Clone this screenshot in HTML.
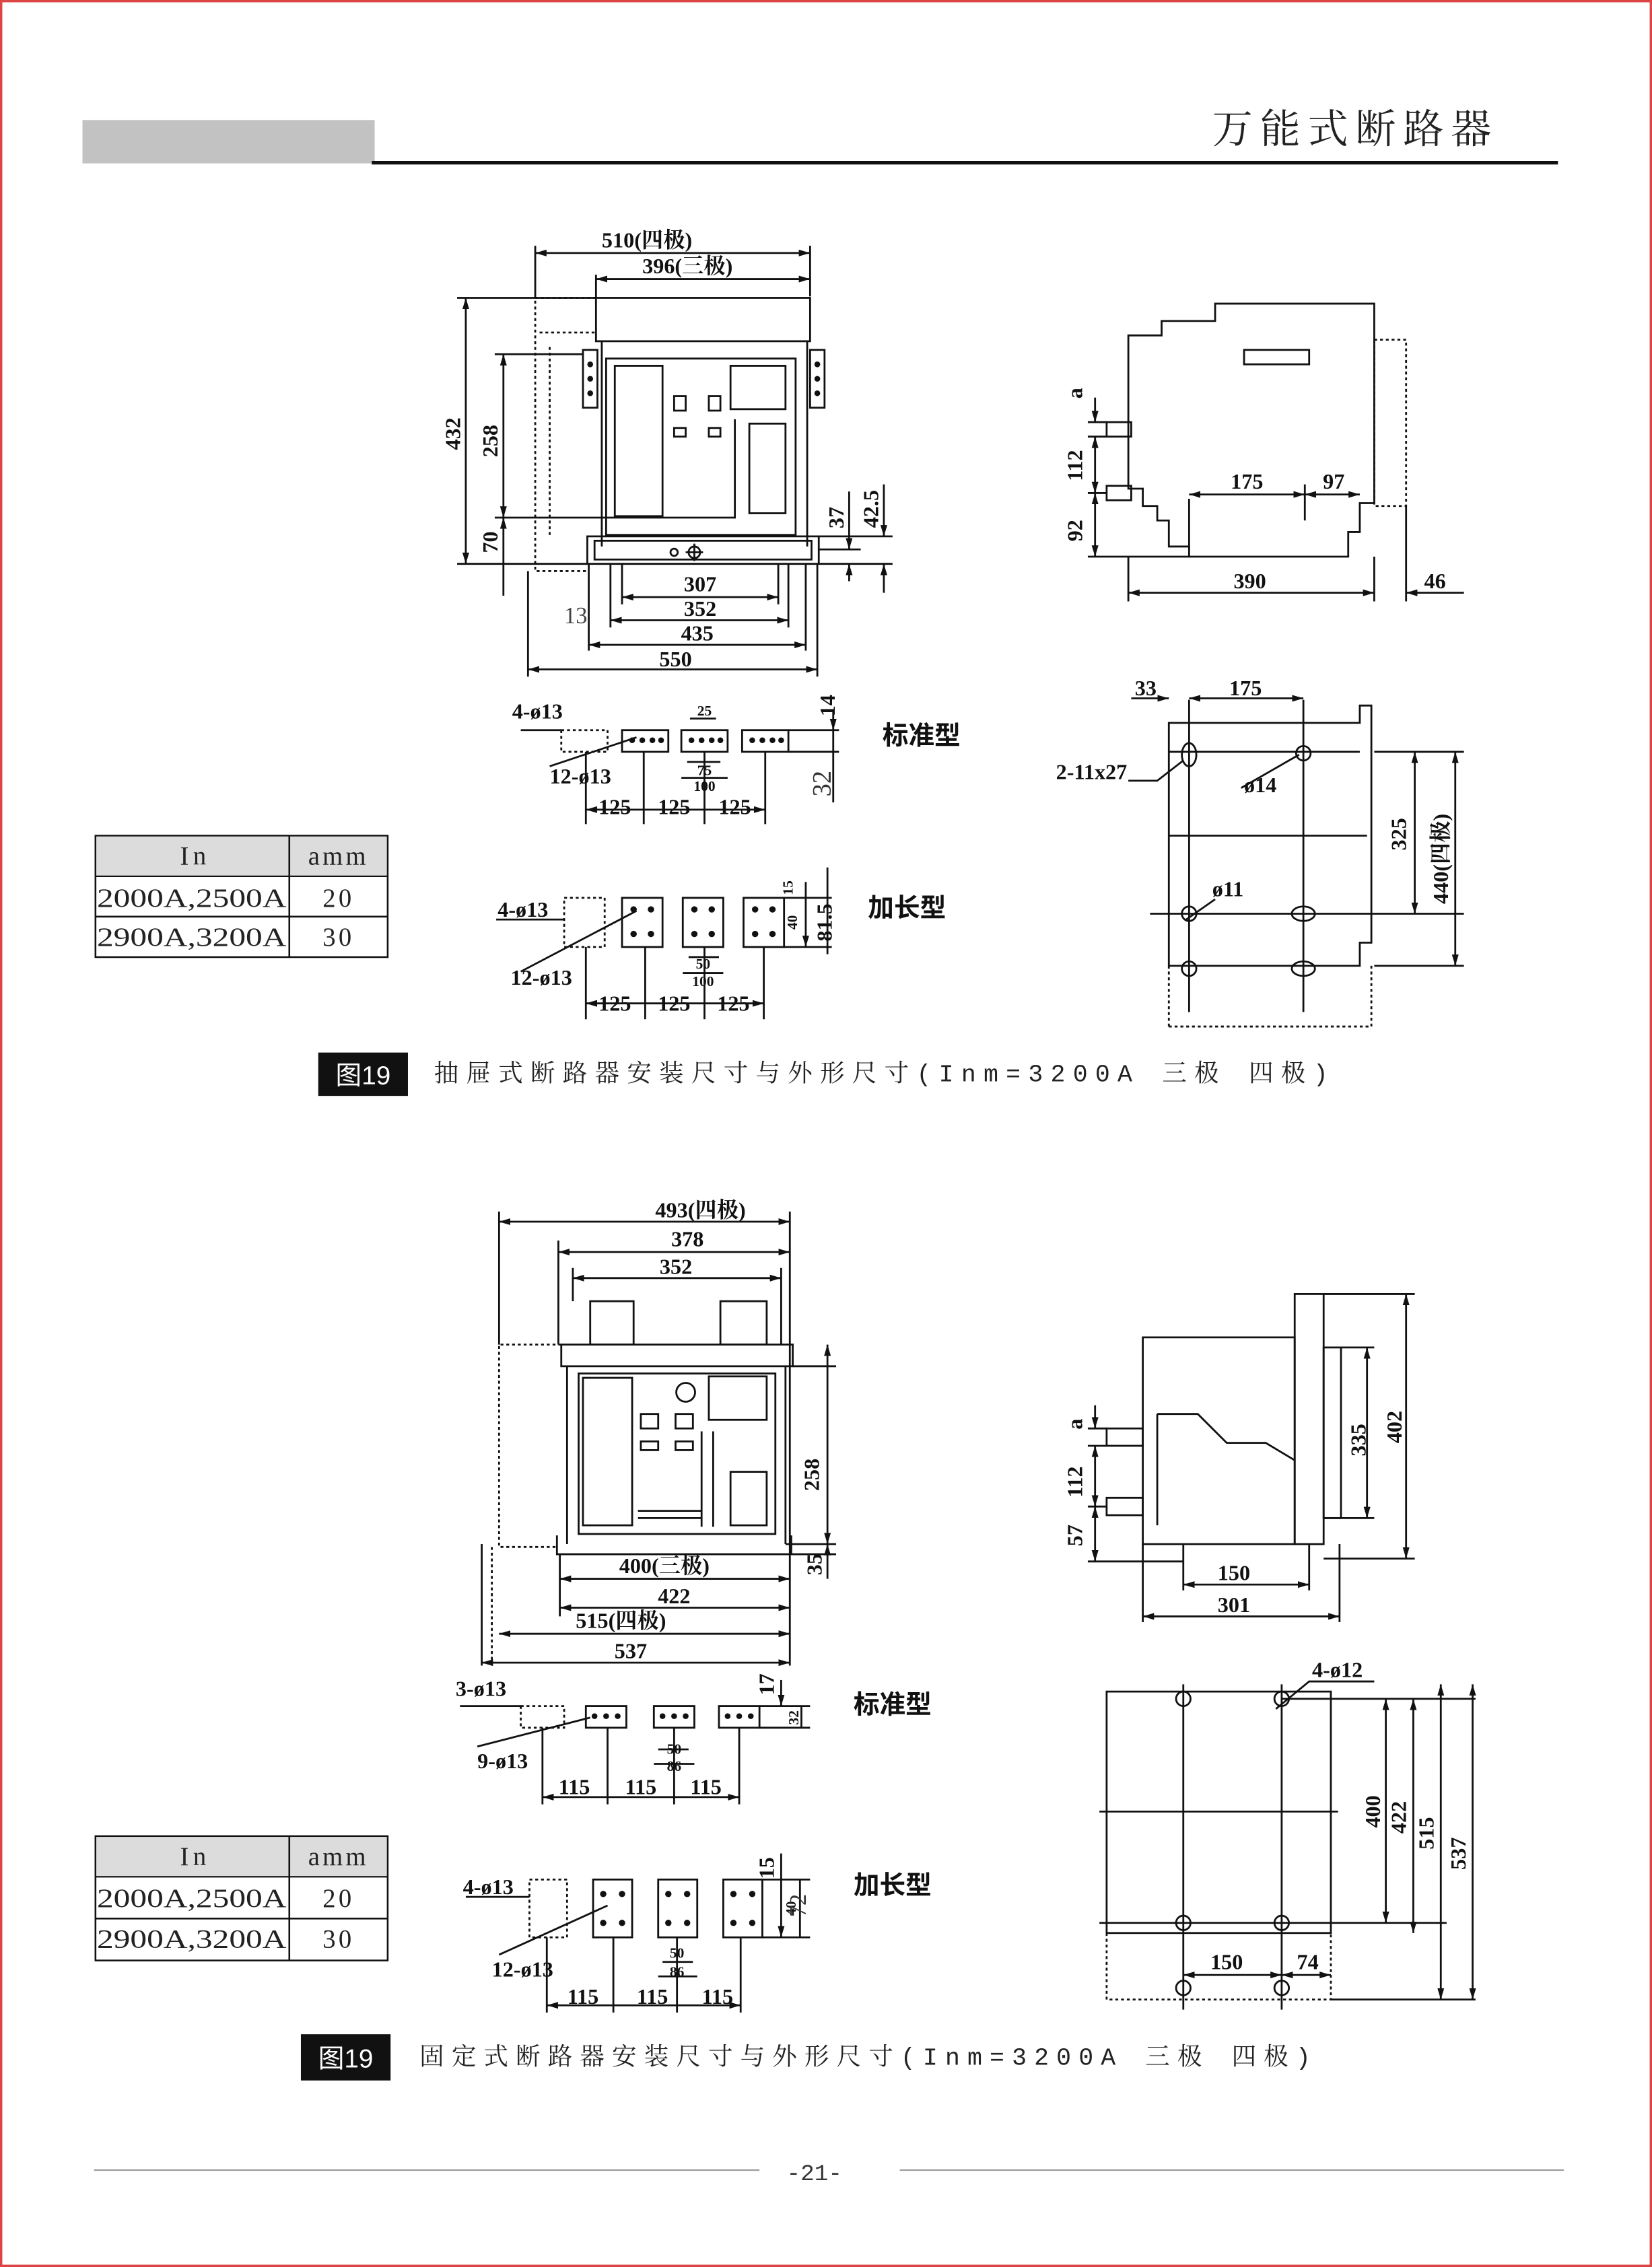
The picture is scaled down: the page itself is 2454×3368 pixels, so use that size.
<!DOCTYPE html>
<html><head><meta charset="utf-8"><style>
html,body{margin:0;padding:0;background:#fff;}
svg{display:block;}
.d{font-family:"Liberation Serif","Noto Serif CJK SC",serif;font-weight:bold;font-size:15px;fill:#111;}
.s{font-family:"Liberation Serif","Noto Serif CJK SC",serif;font-weight:bold;font-size:10px;fill:#111;}
.cn{font-family:"Liberation Sans","Noto Sans CJK SC",sans-serif;font-weight:bold;font-size:18px;fill:#111;}
.cap{font-family:"Liberation Mono","Noto Serif CJK SC",monospace;font-size:17px;fill:#222;}
.tb{font-family:"Liberation Serif","Noto Serif CJK SC",serif;font-size:18px;fill:#222;}
</style></head><body>
<svg width="2454" height="3368" viewBox="0 0 1142 1568" preserveAspectRatio="none" xmlns="http://www.w3.org/2000/svg">
<defs>
<marker id="a" viewBox="0 0 10 10" refX="10" refY="5" markerWidth="6" markerHeight="6" orient="auto-start-reverse"><path d="M0,2 L10,5 L0,8z" fill="#111"/></marker>
</defs>
<rect x="0.8" y="0.8" width="1140.4" height="1566.4" fill="none" stroke="#d44" stroke-width="1.6"/>
<rect x="57" y="83" width="202" height="30" fill="#c2c2c2"/>
<line x1="257" y1="112.5" x2="1077" y2="112.5" stroke="#111" stroke-width="2.5"/>
<text x="838" y="99" font-family="Liberation Serif,Noto Serif CJK SC,serif" font-size="28" letter-spacing="5" fill="#222">万能式断路器</text>

<g fill="none" stroke="#111" stroke-width="1.3">
<rect x="412" y="206" width="148" height="30"/>
<path d="M416,236 V378 M558,236 V378"/>
<rect x="419" y="248" width="131" height="122"/>
<rect x="425" y="253" width="33" height="104"/>
<rect x="505" y="253" width="38" height="30"/>
<rect x="518" y="293" width="25" height="62"/>
<path d="M508,290 V358 H419"/>
<rect x="466" y="274" width="8" height="10"/><rect x="490" y="274" width="8" height="10"/>
<rect x="466" y="296" width="8" height="6"/><rect x="490" y="296" width="8" height="6"/>
<rect x="403" y="242" width="10" height="40"/><rect x="560" y="242" width="10" height="40"/>
<path d="M406,371 H566 V390 H406z"/>
<rect x="411" y="374" width="150" height="13"/>
<circle cx="466" cy="382" r="2.5"/><circle cx="480" cy="382" r="4"/><path d="M480,376 V388 M474,382 H486"/>
<path d="M412,206 H370 V395 H406 M373,230 H412 M380,240 V370" stroke-dasharray="2,2"/>
<path d="M370,170 V206 M560,170 V205 M412,190 V206" />
<line x1="370" y1="175" x2="560" y2="175" marker-start="url(#a)" marker-end="url(#a)"/>
<line x1="412" y1="193" x2="560" y2="193" marker-start="url(#a)" marker-end="url(#a)"/>
<path d="M316,206 H412 M342,245 H403 M342,358 H419 M316,390 H406"/>
<line x1="322" y1="206" x2="322" y2="390" marker-start="url(#a)" marker-end="url(#a)"/>
<line x1="348" y1="245" x2="348" y2="358" marker-start="url(#a)" marker-end="url(#a)"/>
<line x1="348" y1="358" x2="348" y2="412" marker-start="url(#a)"/>
<path d="M566,371 H617 M566,380 H595 M566,390 H617"/>
<line x1="587" y1="340" x2="587" y2="380" marker-end="url(#a)"/><line x1="587" y1="390" x2="587" y2="402" marker-start="url(#a)"/>
<line x1="611" y1="335" x2="611" y2="371" marker-end="url(#a)"/><line x1="611" y1="390" x2="611" y2="410" marker-start="url(#a)"/>
<path d="M430,390 V418 M538,390 V418 M422,390 V434 M545,390 V434 M407,390 V450 M557,390 V450 M365,395 V468 M565,390 V468"/>
<line x1="430" y1="413" x2="538" y2="413" marker-start="url(#a)" marker-end="url(#a)"/>
<line x1="422" y1="429" x2="545" y2="429" marker-start="url(#a)" marker-end="url(#a)"/>
<line x1="407" y1="446" x2="557" y2="446" marker-start="url(#a)" marker-end="url(#a)"/>
<line x1="365" y1="463" x2="565" y2="463" marker-start="url(#a)" marker-end="url(#a)"/>

<rect x="388" y="505" width="32" height="15" stroke-dasharray="2,2"/>
<rect x="430" y="505" width="32" height="15"/><rect x="471" y="505" width="32" height="15"/><rect x="513" y="505" width="32" height="15"/>
<path d="M360,505 H388 M545,505 H580 M545,520 H580 M380,530 L440,510"/>
<path d="M405,520 V570 M445,520 V570 M487,520 V570 M529,520 V570"/>
<line x1="405" y1="560" x2="529" y2="560" marker-start="url(#a)" marker-end="url(#a)"/>
<line x1="475" y1="527" x2="498" y2="527"/><line x1="471" y1="538" x2="503" y2="538"/>
<line x1="477" y1="497" x2="495" y2="497"/>
<line x1="576" y1="492" x2="576" y2="505" marker-end="url(#a)"/>
<line x1="576" y1="505" x2="576" y2="555"/>

<rect x="390" y="621" width="28" height="34" stroke-dasharray="2,2"/>
<rect x="430" y="621" width="28" height="34"/><rect x="472" y="621" width="28" height="34"/><rect x="514" y="621" width="28" height="34"/>
<path d="M343,636 H390 M542,621 H575 M542,655 H575 M360,672 L440,630"/>
<path d="M405,655 V705 M446,655 V705 M487,655 V705 M528,655 V705"/>
<line x1="405" y1="694" x2="528" y2="694" marker-start="url(#a)" marker-end="url(#a)"/>
<line x1="476" y1="662" x2="497" y2="662"/><line x1="472" y1="673" x2="500" y2="673"/>
<line x1="557" y1="610" x2="557" y2="655" marker-end="url(#a)"/><line x1="572" y1="600" x2="572" y2="660"/>

<path d="M780,232 H803 V222 H840 V210 H950 V348 H940 V368 H932 V385 H822 V378 H808 V360 H800 V350 H790 V338 H780 Z"/>
<rect x="860" y="242" width="45" height="10"/>
<rect x="950" y="235" width="22" height="115" stroke-dasharray="2,2"/>
<rect x="765" y="292" width="17" height="10"/><rect x="765" y="336" width="17" height="10"/>
<path d="M752,292 H765 M752,302 H765 M752,341 H765 M752,385 H822 M780,385 V416 M950,385 V416 M972,350 V416"/>
<line x1="757" y1="275" x2="757" y2="292" marker-end="url(#a)"/>
<line x1="757" y1="302" x2="757" y2="341" marker-start="url(#a)" marker-end="url(#a)"/>
<line x1="757" y1="341" x2="757" y2="385" marker-start="url(#a)" marker-end="url(#a)"/>
<path d="M822,345 V380 M902,335 V360"/>
<line x1="822" y1="342" x2="902" y2="342" marker-start="url(#a)" marker-end="url(#a)"/>
<line x1="902" y1="342" x2="940" y2="342" marker-start="url(#a)" marker-end="url(#a)"/>
<line x1="780" y1="410" x2="950" y2="410" marker-start="url(#a)" marker-end="url(#a)"/>
<line x1="972" y1="410" x2="1012" y2="410" marker-start="url(#a)"/>

<path d="M808,500 V668 H940 V652 H948 V488 H940 V500 Z"/>
<path d="M808,668 V710 M948,668 V710 M808,710 H948" stroke-dasharray="2,2"/>
<path d="M822,484 V700 M901,484 V700 M795,632 H965 M808,578 H945 M950,520 H1012 M950,632 H1012 M950,668 H1012 M808,520 H940"/>
<ellipse cx="822" cy="522" rx="5" ry="8"/><circle cx="901" cy="521" r="5"/>
<circle cx="822" cy="632" r="5"/><ellipse cx="901" cy="632" rx="8" ry="5"/>
<circle cx="822" cy="670" r="5"/><ellipse cx="901" cy="670" rx="8" ry="5"/>
<line x1="782" y1="483" x2="808" y2="483" marker-end="url(#a)"/>
<line x1="822" y1="483" x2="901" y2="483" marker-start="url(#a)" marker-end="url(#a)"/>
<path d="M780,540 L800,540 L818,526 M858,545 L898,522 M840,622 L820,636"/>
<line x1="978" y1="520" x2="978" y2="632" marker-start="url(#a)" marker-end="url(#a)"/>
<line x1="1006" y1="520" x2="1006" y2="668" marker-start="url(#a)" marker-end="url(#a)"/>

<rect x="408" y="900" width="30" height="30"/><rect x="498" y="900" width="32" height="30"/>
<rect x="388" y="930" width="160" height="15"/>
<path d="M392,945 V1068 M543,945 V1068"/>
<rect x="400" y="950" width="136" height="111"/>
<rect x="403" y="953" width="34" height="102"/>
<rect x="490" y="952" width="40" height="30"/>
<rect x="505" y="1018" width="25" height="37"/>
<path d="M485,990 V1056 M493,990 V1056 M441,1045 H485 M441,1050 H485"/>
<circle cx="474" cy="963" r="6.5"/>
<rect x="443" y="978" width="12" height="10"/><rect x="467" y="978" width="12" height="10"/>
<rect x="443" y="997" width="12" height="6"/><rect x="467" y="997" width="12" height="6"/>
<path d="M385,1062 V1075 H547 V1062"/>
<path d="M388,930 H345 V1070 H385 M340,1070 V1148" stroke-dasharray="2,2"/>
<path d="M345,838 V930 M546,838 V1152 M386,858 V930 M396,877 V900 M540,877 V930"/>
<line x1="345" y1="845" x2="546" y2="845" marker-start="url(#a)" marker-end="url(#a)"/>
<line x1="386" y1="866" x2="546" y2="866" marker-start="url(#a)" marker-end="url(#a)"/>
<line x1="396" y1="884" x2="540" y2="884" marker-start="url(#a)" marker-end="url(#a)"/>
<path d="M548,945 H578 M543,1068 H578 M547,1075 H578"/>
<line x1="572" y1="930" x2="572" y2="1068" marker-start="url(#a)" marker-end="url(#a)"/>
<line x1="572" y1="1068" x2="572" y2="1092" marker-start="url(#a)"/>
<path d="M387,1075 V1118 M333,1068 V1152"/>
<line x1="387" y1="1092" x2="546" y2="1092" marker-start="url(#a)" marker-end="url(#a)"/>
<line x1="387" y1="1112" x2="546" y2="1112" marker-start="url(#a)" marker-end="url(#a)"/>
<line x1="345" y1="1130" x2="546" y2="1130" marker-start="url(#a)" marker-end="url(#a)"/>
<line x1="333" y1="1150" x2="546" y2="1150" marker-start="url(#a)" marker-end="url(#a)"/>

<rect x="360" y="1180" width="30" height="15" stroke-dasharray="2,2"/>
<rect x="405" y="1180" width="28" height="15"/><rect x="452" y="1180" width="28" height="15"/><rect x="497" y="1180" width="28" height="15"/>
<path d="M318,1180 H360 M525,1180 H560 M525,1195 H560 M330,1208 L408,1188"/>
<path d="M375,1195 V1248 M420,1195 V1248 M466,1195 V1248 M511,1195 V1248"/>
<line x1="375" y1="1243" x2="511" y2="1243" marker-start="url(#a)" marker-end="url(#a)"/>
<line x1="455" y1="1210" x2="476" y2="1210"/><line x1="452" y1="1220" x2="480" y2="1220"/>
<line x1="540" y1="1162" x2="540" y2="1180" marker-end="url(#a)"/><line x1="554" y1="1180" x2="554" y2="1195"/>

<rect x="366" y="1300" width="26" height="40" stroke-dasharray="2,2"/>
<rect x="410" y="1300" width="27" height="40"/><rect x="455" y="1300" width="27" height="40"/><rect x="500" y="1300" width="27" height="40"/>
<path d="M322,1312 H366 M527,1300 H560 M527,1340 H560 M345,1352 L420,1318"/>
<path d="M378,1340 V1392 M424,1340 V1392 M468,1340 V1392 M512,1340 V1392"/>
<line x1="378" y1="1387" x2="512" y2="1387" marker-start="url(#a)" marker-end="url(#a)"/>
<line x1="458" y1="1357" x2="479" y2="1357"/><line x1="455" y1="1367" x2="482" y2="1367"/>
<line x1="540" y1="1282" x2="540" y2="1340" marker-end="url(#a)"/><line x1="553" y1="1300" x2="553" y2="1340"/>

<path d="M790,925 V1068 H895 V925 Z"/>
<rect x="895" y="895" width="20" height="173"/>
<rect x="915" y="932" width="12" height="118"/>
<path d="M800,978 H828 L848,998 H875 L895,1010 M800,978 V1055"/>
<rect x="765" y="988" width="25" height="12"/><rect x="765" y="1036" width="25" height="12"/>
<path d="M752,988 H765 M752,1000 H765 M752,1042 H765 M752,1080 H818 M790,1068 V1122 M926,1068 V1122 M818,1068 V1100 M905,1068 V1100 M915,895 H978 M927,932 H950 M915,1050 H950 M915,1078 H978"/>
<line x1="757" y1="972" x2="757" y2="988" marker-end="url(#a)"/>
<line x1="757" y1="1000" x2="757" y2="1042" marker-start="url(#a)" marker-end="url(#a)"/>
<line x1="757" y1="1042" x2="757" y2="1080" marker-start="url(#a)" marker-end="url(#a)"/>
<line x1="818" y1="1096" x2="905" y2="1096" marker-start="url(#a)" marker-end="url(#a)"/>
<line x1="790" y1="1118" x2="926" y2="1118" marker-start="url(#a)" marker-end="url(#a)"/>
<line x1="945" y1="932" x2="945" y2="1050" marker-start="url(#a)" marker-end="url(#a)"/>
<line x1="972" y1="895" x2="972" y2="1078" marker-start="url(#a)" marker-end="url(#a)"/>

<rect x="765" y="1170" width="155" height="167"/>
<path d="M765,1337 V1383 H920 V1337" stroke-dasharray="2,2"/>
<path d="M818,1165 V1390 M886,1165 V1390 M760,1253 H925 M760,1330 H1000 M886,1175 H1020 M920,1175 H1000 M920,1383 H1020 M886,1330 H985 M886,1175 H985"/>
<circle cx="818" cy="1175" r="5"/><circle cx="886" cy="1175" r="5"/>
<circle cx="818" cy="1330" r="5"/><circle cx="886" cy="1330" r="5"/>
<circle cx="818" cy="1375" r="5"/><circle cx="886" cy="1375" r="5"/>
<path d="M950,1163 H905 L882,1182"/>
<line x1="958" y1="1175" x2="958" y2="1330" marker-start="url(#a)" marker-end="url(#a)"/>
<line x1="977" y1="1175" x2="977" y2="1337" marker-start="url(#a)" marker-end="url(#a)"/>
<line x1="996" y1="1165" x2="996" y2="1383" marker-start="url(#a)" marker-end="url(#a)"/>
<line x1="1018" y1="1165" x2="1018" y2="1383" marker-start="url(#a)" marker-end="url(#a)"/>
<line x1="818" y1="1366" x2="886" y2="1366" marker-start="url(#a)" marker-end="url(#a)"/>
<line x1="886" y1="1366" x2="920" y2="1366" marker-start="url(#a)" marker-end="url(#a)"/>
</g>
<g fill="#111">
<circle cx="437" cy="512" r="2"/><circle cx="444" cy="512" r="2"/><circle cx="451" cy="512" r="2"/><circle cx="457" cy="512" r="2"/>
<circle cx="478" cy="512" r="2"/><circle cx="485" cy="512" r="2"/><circle cx="492" cy="512" r="2"/><circle cx="498" cy="512" r="2"/>
<circle cx="520" cy="512" r="2"/><circle cx="527" cy="512" r="2"/><circle cx="534" cy="512" r="2"/><circle cx="540" cy="512" r="2"/>
<circle cx="438" cy="629" r="2.2"/><circle cx="450" cy="629" r="2.2"/><circle cx="438" cy="646" r="2.2"/><circle cx="450" cy="646" r="2.2"/>
<circle cx="480" cy="629" r="2.2"/><circle cx="492" cy="629" r="2.2"/><circle cx="480" cy="646" r="2.2"/><circle cx="492" cy="646" r="2.2"/>
<circle cx="522" cy="629" r="2.2"/><circle cx="534" cy="629" r="2.2"/><circle cx="522" cy="646" r="2.2"/><circle cx="534" cy="646" r="2.2"/>
<circle cx="411" cy="1187" r="2"/><circle cx="419" cy="1187" r="2"/><circle cx="427" cy="1187" r="2"/>
<circle cx="458" cy="1187" r="2"/><circle cx="466" cy="1187" r="2"/><circle cx="474" cy="1187" r="2"/>
<circle cx="503" cy="1187" r="2"/><circle cx="511" cy="1187" r="2"/><circle cx="519" cy="1187" r="2"/>
<circle cx="417" cy="1310" r="2.2"/><circle cx="430" cy="1310" r="2.2"/><circle cx="417" cy="1330" r="2.2"/><circle cx="430" cy="1330" r="2.2"/>
<circle cx="462" cy="1310" r="2.2"/><circle cx="475" cy="1310" r="2.2"/><circle cx="462" cy="1330" r="2.2"/><circle cx="475" cy="1330" r="2.2"/>
<circle cx="507" cy="1310" r="2.2"/><circle cx="520" cy="1310" r="2.2"/><circle cx="507" cy="1330" r="2.2"/><circle cx="520" cy="1330" r="2.2"/>
<circle cx="408" cy="252" r="2"/><circle cx="408" cy="262" r="2"/><circle cx="408" cy="272" r="2"/>
<circle cx="565" cy="252" r="2"/><circle cx="565" cy="262" r="2"/><circle cx="565" cy="272" r="2"/>
</g>

<text class="d" x="416" y="171">510(四极)</text>
<text class="d" x="444" y="189">396(三极)</text>
<text class="d" transform="translate(318,300) rotate(-90)" text-anchor="middle">432</text>
<text class="d" transform="translate(344,305) rotate(-90)" text-anchor="middle">258</text>
<text class="d" transform="translate(344,375) rotate(-90)" text-anchor="middle">70</text>
<text class="d" transform="translate(583,358) rotate(-90)" text-anchor="middle">37</text>
<text class="d" transform="translate(607,352) rotate(-90)" text-anchor="middle">42.5</text>
<text class="d" x="484" y="409" text-anchor="middle">307</text>
<text class="d" x="484" y="426" text-anchor="middle">352</text>
<text class="d" x="482" y="443" text-anchor="middle">435</text>
<text class="d" x="467" y="461" text-anchor="middle">550</text>
<text x="398" y="431" text-anchor="middle" font-family="Liberation Serif,serif" font-size="16" fill="#444">13</text>
<text class="d" x="354" y="497">4-ø13</text>
<text class="d" x="380" y="542">12-ø13</text>
<text class="s" x="487" y="495" text-anchor="middle">25</text>
<text class="s" x="487" y="536" text-anchor="middle">75</text>
<text class="s" x="487" y="547" text-anchor="middle">100</text>
<text class="d" transform="translate(577,488) rotate(-90)" text-anchor="middle">14</text>
<text transform="translate(574,542) rotate(-90)" text-anchor="middle" font-family="Liberation Serif,serif" font-size="18" fill="#333">32</text>
<text class="d" x="425" y="563" text-anchor="middle">125</text>
<text class="d" x="466" y="563" text-anchor="middle">125</text>
<text class="d" x="508" y="563" text-anchor="middle">125</text>
<text class="cn" x="610" y="515">标准型</text>
<text class="d" x="344" y="634">4-ø13</text>
<text class="d" x="353" y="681">12-ø13</text>
<text class="s" x="486" y="670" text-anchor="middle">50</text>
<text class="s" x="486" y="682" text-anchor="middle">100</text>
<text class="s" transform="translate(548,614) rotate(-90)" text-anchor="middle">15</text>
<text class="s" transform="translate(551,638) rotate(-90)" text-anchor="middle">40</text>
<text class="d" transform="translate(575,638) rotate(-90)" text-anchor="middle">81.5</text>
<text class="d" x="425" y="699" text-anchor="middle">125</text>
<text class="d" x="466" y="699" text-anchor="middle">125</text>
<text class="d" x="507" y="699" text-anchor="middle">125</text>
<text class="cn" x="600" y="634">加长型</text>
<text class="d" transform="translate(748,272) rotate(-90)" text-anchor="middle">a</text>
<text class="d" transform="translate(748,322) rotate(-90)" text-anchor="middle">112</text>
<text class="d" transform="translate(748,367) rotate(-90)" text-anchor="middle">92</text>
<text class="d" x="862" y="338" text-anchor="middle">175</text>
<text class="d" x="922" y="338" text-anchor="middle">97</text>
<text class="d" x="864" y="407" text-anchor="middle">390</text>
<text class="d" x="992" y="407" text-anchor="middle">46</text>
<text class="d" x="792" y="481" text-anchor="middle">33</text>
<text class="d" x="861" y="481" text-anchor="middle">175</text>
<text class="d" x="730" y="539">2-11x27</text>
<text class="d" x="860" y="548">ø14</text>
<text class="d" x="838" y="620">ø11</text>
<text class="d" transform="translate(972,577) rotate(-90)" text-anchor="middle">325</text>
<text class="d" transform="translate(1001,594) rotate(-90)" text-anchor="middle">440(四极)</text>

<g stroke="#111" stroke-width="1.2" fill="none">
<rect x="66" y="578" width="202" height="84"/>
<path d="M200,578 V662 M66,606 H268 M66,634 H268"/>
<rect x="66" y="1270" width="202" height="86"/>
<path d="M200,1270 V1356 M66,1298 H268 M66,1327 H268"/>
</g>
<rect x="66.6" y="578.6" width="200.8" height="27" fill="#dcdcdc"/>
<rect x="66.6" y="1270.6" width="200.8" height="27" fill="#dcdcdc"/>
<g stroke="#111" stroke-width="1.2"><path d="M200,578 V606 M200,1270 V1298"/></g>
<text class="tb" x="135" y="598" text-anchor="middle" letter-spacing="3">In</text>
<text class="tb" x="234" y="598" text-anchor="middle" letter-spacing="2">amm</text>
<text class="tb" x="67" y="627" textLength="131" lengthAdjust="spacingAndGlyphs">2000A,2500A</text>
<text class="tb" x="234" y="627" text-anchor="middle" letter-spacing="2">20</text>
<text class="tb" x="67" y="654" textLength="131" lengthAdjust="spacingAndGlyphs">2900A,3200A</text>
<text class="tb" x="234" y="654" text-anchor="middle" letter-spacing="2">30</text>
<text class="tb" x="135" y="1290" text-anchor="middle" letter-spacing="3">In</text>
<text class="tb" x="234" y="1290" text-anchor="middle" letter-spacing="2">amm</text>
<text class="tb" x="67" y="1319" textLength="131" lengthAdjust="spacingAndGlyphs">2000A,2500A</text>
<text class="tb" x="234" y="1319" text-anchor="middle" letter-spacing="2">20</text>
<text class="tb" x="67" y="1347" textLength="131" lengthAdjust="spacingAndGlyphs">2900A,3200A</text>
<text class="tb" x="234" y="1347" text-anchor="middle" letter-spacing="2">30</text>

<rect x="220" y="728" width="62" height="30" fill="#111"/>
<text x="232" y="750" font-family="Liberation Sans,Noto Sans CJK SC,sans-serif" font-size="18" fill="#fff">图19</text>
<text class="cap" x="300" y="748" textLength="618" lengthAdjust="spacing">抽屉式断路器安装尺寸与外形尺寸(Inm=3200A  三极      四极)</text>

<text class="d" x="453" y="842">493(四极)</text>
<text class="d" x="464" y="862">378</text>
<text class="d" x="456" y="881">352</text>
<text class="d" transform="translate(566,1020) rotate(-90)" text-anchor="middle">258</text>
<text class="d" transform="translate(568,1082) rotate(-90)" text-anchor="middle">35</text>
<text class="d" x="428" y="1088">400(三极)</text>
<text class="d" x="466" y="1109" text-anchor="middle">422</text>
<text class="d" x="398" y="1126">515(四极)</text>
<text class="d" x="436" y="1147" text-anchor="middle">537</text>
<text class="d" x="315" y="1173">3-ø13</text>
<text class="d" x="330" y="1223">9-ø13</text>
<text class="s" x="466" y="1213" text-anchor="middle">50</text>
<text class="s" x="466" y="1225" text-anchor="middle">86</text>
<text class="d" transform="translate(535,1165) rotate(-90)" text-anchor="middle">17</text>
<text class="s" transform="translate(552,1188) rotate(-90)" text-anchor="middle">32</text>
<text class="d" x="397" y="1241" text-anchor="middle">115</text>
<text class="d" x="443" y="1241" text-anchor="middle">115</text>
<text class="d" x="488" y="1241" text-anchor="middle">115</text>
<text class="cn" x="590" y="1185">标准型</text>
<text class="d" x="320" y="1310">4-ø13</text>
<text class="d" x="340" y="1367">12-ø13</text>
<text class="s" x="468" y="1354" text-anchor="middle">50</text>
<text class="s" x="468" y="1367" text-anchor="middle">86</text>
<text class="d" transform="translate(535,1292) rotate(-90)" text-anchor="middle">15</text>
<text class="s" transform="translate(550,1320) rotate(-90)" text-anchor="middle">40</text>
<text transform="translate(557,1318) rotate(-90)" text-anchor="middle" font-family="Liberation Serif,serif" font-size="16" fill="#333">72</text>
<text class="d" x="403" y="1386" text-anchor="middle">115</text>
<text class="d" x="451" y="1386" text-anchor="middle">115</text>
<text class="d" x="496" y="1386" text-anchor="middle">115</text>
<text class="cn" x="590" y="1310">加长型</text>
<text class="d" transform="translate(748,985) rotate(-90)" text-anchor="middle">a</text>
<text class="d" transform="translate(748,1025) rotate(-90)" text-anchor="middle">112</text>
<text class="d" transform="translate(748,1062) rotate(-90)" text-anchor="middle">57</text>
<text class="d" transform="translate(944,996) rotate(-90)" text-anchor="middle">335</text>
<text class="d" transform="translate(969,987) rotate(-90)" text-anchor="middle">402</text>
<text class="d" x="853" y="1093" text-anchor="middle">150</text>
<text class="d" x="853" y="1115" text-anchor="middle">301</text>
<text class="d" x="907" y="1160">4-ø12</text>
<text class="d" transform="translate(954,1253) rotate(-90)" text-anchor="middle">400</text>
<text class="d" transform="translate(972,1257) rotate(-90)" text-anchor="middle">422</text>
<text class="d" transform="translate(991,1268) rotate(-90)" text-anchor="middle">515</text>
<text class="d" transform="translate(1013,1282) rotate(-90)" text-anchor="middle">537</text>
<text class="d" x="848" y="1362" text-anchor="middle">150</text>
<text class="d" x="904" y="1362" text-anchor="middle">74</text>

<rect x="208" y="1407" width="62" height="32" fill="#111"/>
<text x="220" y="1430" font-family="Liberation Sans,Noto Sans CJK SC,sans-serif" font-size="18" fill="#fff">图19</text>
<text class="cap" x="290" y="1428" textLength="616" lengthAdjust="spacing">固定式断路器安装尺寸与外形尺寸(Inm=3200A  三极      四极)</text>

<line x1="65" y1="1501" x2="525" y2="1501" stroke="#999" stroke-width="1"/>
<line x1="622" y1="1501" x2="1081" y2="1501" stroke="#999" stroke-width="1"/>
<text x="563" y="1508" text-anchor="middle" font-family="Liberation Mono,monospace" font-size="16" fill="#333">-21-</text>
</svg>
</body></html>
